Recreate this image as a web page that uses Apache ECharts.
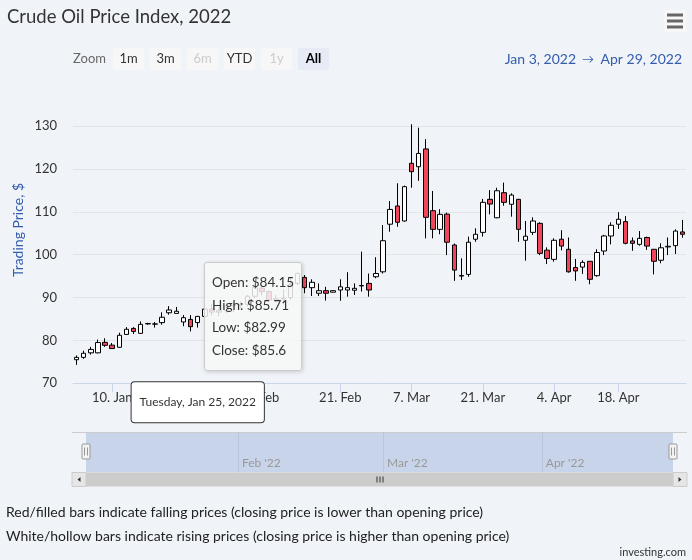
<!DOCTYPE html>
<html><head><meta charset="utf-8">
<script src="https://cdn.jsdelivr.net/npm/echarts@6/dist/echarts.min.js"></script>
<style>html,body{margin:0;padding:0;background:#f0f4f8;} #c{width:692px;height:560px;}</style>
</head><body><div id="c"></div>
<script>
// ---- data ----
const dates = [
 '2022-01-03','2022-01-04','2022-01-05','2022-01-06','2022-01-07','2022-01-10','2022-01-11','2022-01-12','2022-01-13','2022-01-14',
 '2022-01-16','2022-01-17','2022-01-18','2022-01-19','2022-01-20','2022-01-21','2022-01-24','2022-01-25','2022-01-26','2022-01-27',
 '2022-01-28','2022-01-31','2022-02-01','2022-02-02','2022-02-03','2022-02-04','2022-02-07','2022-02-08','2022-02-09','2022-02-10',
 '2022-02-11','2022-02-14','2022-02-15','2022-02-16','2022-02-17','2022-02-18','2022-02-20','2022-02-21','2022-02-22','2022-02-23',
 '2022-02-24','2022-02-25','2022-02-28','2022-03-01','2022-03-02','2022-03-03','2022-03-04','2022-03-07','2022-03-08','2022-03-09',
 '2022-03-10','2022-03-11','2022-03-14','2022-03-15','2022-03-16','2022-03-17','2022-03-18','2022-03-21','2022-03-22','2022-03-23',
 '2022-03-24','2022-03-25','2022-03-28','2022-03-29','2022-03-30','2022-03-31','2022-04-01','2022-04-04','2022-04-05','2022-04-06',
 '2022-04-07','2022-04-08','2022-04-11','2022-04-12','2022-04-13','2022-04-14','2022-04-18','2022-04-19','2022-04-20','2022-04-21',
 '2022-04-22','2022-04-25','2022-04-26','2022-04-27','2022-04-28','2022-04-29'];
const opens = [75.5,76.05,77.1,77.1,79.55,78.9,78.4,81.4,82.8,81.65, 83.85,83.8,84.15,86.45,86.3,84.3,84.9,84.15,85.6,87.3, 86.6,86.9,88.1,88.2,88.4,90.3,92.2,91.4,89.4,89.7, 90.0,93.3,94.7,92.3,91.0,91.6,91.25,91.75,91.75,91.7, 92.7,93.3,94.85,96.0,107.1,111.35,107.85,121.3,120.5,124.65, 110.25,105.9,109.45,102.25,95.0,95.4,103.6,105.2,112.9,108.6, 114.45,111.75,112.9,103.35,105.2,107.3,101.05,98.9,103.6,101.25, 97.0,97.1,98.45,95.1,100.85,104.35,107.1,107.7,103.2,102.4, 104.0,101.25,98.7,101.8,102.1,105.3];
const highs = [76.5,77.6,78.5,80.2,80.5,79.4,81.8,83.1,83.1,84.45, 84.1,84.3,86.55,88.0,87.8,85.9,85.9,85.71,88.2,88.5, 87.3,88.6,88.9,89.1,90.6,93.2,92.6,91.6,90.6,91.9, 94.6,95.8,95.25,94.25,93.3,92.5,91.7,94.25,95.9,93.3, 100.7,95.6,99.4,106.9,112.5,116.65,116.1,130.4,129.6,126.95, 114.85,110.6,109.8,102.6,99.15,104.2,106.15,113.0,115.05,115.6, 116.8,114.3,113.0,107.85,108.7,107.55,101.7,103.8,105.7,104.0, 99.0,98.7,98.45,101.25,104.6,107.55,109.9,109.0,104.0,105.5, 104.2,101.25,102.65,104.0,105.9,108.1];
const lows = [74.3,75.7,76.7,77.0,78.5,78.0,78.3,81.3,81.5,81.55, 83.65,83.0,83.65,86.0,86.3,83.3,82.1,82.99,85.1,85.8, 85.6,86.4,86.6,87.6,87.9,89.9,90.5,88.9,88.8,88.4, 89.5,92.9,91.0,90.35,90.35,89.3,91.2,89.25,90.2,90.6, 91.4,90.2,94.5,95.6,105.35,106.5,107.7,115.6,117.2,103.8, 103.8,104.75,99.9,93.9,94.1,94.85,103.0,104.2,109.4,108.5, 111.4,108.85,103.0,98.6,104.6,99.9,97.8,98.35,101.0,95.8, 93.9,95.5,93.1,94.85,99.9,102.4,106.0,102.4,100.9,102.1, 101.1,95.4,98.0,99.9,100.15,103.95];
const closes = [76.05,77.0,77.9,79.5,78.85,78.1,81.2,82.6,82.1,83.75, 83.95,83.85,85.4,87.1,86.8,85.3,83.2,85.6,87.3,86.6, 86.9,88.1,88.2,88.4,90.3,92.3,91.4,89.4,89.7,89.9, 93.0,95.6,92.3,93.55,91.6,91.0,91.6,92.5,92.3,92.15, 92.8,91.75,95.6,103.25,110.55,107.55,115.85,119.35,123.6,108.7, 105.9,109.4,102.9,96.4,95.15,102.9,104.75,112.2,111.8,114.9, 112.2,113.9,105.9,104.3,107.85,100.3,99.1,103.35,102.0,96.0, 96.2,98.2,94.25,100.5,104.35,106.85,108.25,102.65,102.65,103.8, 102.0,98.45,101.6,101.95,105.5,104.75];
const xTickDates = ['2022-01-10','2022-01-24','2022-02-07','2022-02-21','2022-03-07','2022-03-21','2022-04-04','2022-04-18'];
const navMonthDates = ['2022-02-01','2022-03-01','2022-04-01'];
const yTicks = [70, 80, 90, 100, 110, 120, 130];
const rangeButtons = ['1m','3m','6m','YTD','1y','All'];
const disabledButtons = ['6m','1y'];
const selectedButton = 'All';
const tooltipDate = '2022-01-25';

// ---- helpers ----
const MON = ['Jan','Feb','Mar','Apr','May','Jun','Jul','Aug','Sep','Oct','Nov','Dec'];
const DAY = ['Sunday','Monday','Tuesday','Wednesday','Thursday','Friday','Saturday'];
function pd(s){ const p = s.split('-').map(Number); return new Date(p[0], p[1]-1, p[2]); }
const FONT = 'Lato, "Open Sans", sans-serif';
const bg = '#f0f4f8';

const candle = dates.map((d,i)=>[opens[i], closes[i], lows[i], highs[i]]);

const chart = echarts.init(document.getElementById('c'), null, {renderer:'canvas'});

// range selector graphics
const gfx = [];
gfx.push({type:'text', x:73, y:59, style:{text:'Zoom', fill:'#666', font:'13px '+FONT, verticalAlign:'middle'}});
rangeButtons.forEach((b,i)=>{
  const x = 113 + i*37;
  const sel = b===selectedButton, dis = disabledButtons.includes(b);
  gfx.push({type:'rect', shape:{x:x, y:48, width:31, height:22, r:2},
    style:{fill: sel ? '#e6ebf5' : '#f7f7f7'}});
  gfx.push({type:'text', x:x+15.5, y:59, style:{text:b, fill: sel ? '#000' : (dis ? '#cccccc' : '#333'),
    font:(sel?'bold ':'')+'13px '+FONT, align:'center', verticalAlign:'middle'}});
});
gfx.push({type:'text', x:576, y:59, style:{text:'Jan 3, 2022', fill:'#335cad', font:'14px '+FONT, align:'right', verticalAlign:'middle'}});
gfx.push({type:'text', x:588, y:59, style:{text:'→', fill:'#335cad', font:'12px '+FONT, align:'center', verticalAlign:'middle'}});
gfx.push({type:'text', x:682, y:59, style:{text:'Apr 29, 2022', fill:'#335cad', font:'14px '+FONT, align:'right', verticalAlign:'middle'}});
// menu icon
gfx.push({type:'rect', shape:{x:664, y:10, width:22, height:22, r:2}, style:{fill:'#f7f7f7'}});
[13.5, 19.5, 25.5].forEach(y=>gfx.push({type:'rect', shape:{x:667, y:y, width:16, height:3}, style:{fill:'#666'}}));
// y axis title
gfx.push({type:'text', x:18, y:230, rotation:Math.PI/2, style:{text:'Trading Price, $', fill:'#335cad', font:'14px '+FONT, align:'center', verticalAlign:'middle'}});
// navigator top line
gfx.push({type:'line', shape:{x1:72, y1:432.5, x2:687, y2:432.5}, style:{stroke:'#cccccc', lineWidth:1}});
// navigator handles
[86, 673].forEach(x=>{
  gfx.push({type:'rect', shape:{x:x-4, y:444, width:8, height:15, r:1}, style:{fill:'#f2f2f2', stroke:'#999', lineWidth:1}});
  gfx.push({type:'line', shape:{x1:x-1.5, y1:447.5, x2:x-1.5, y2:455.5}, style:{stroke:'#999', lineWidth:1}});
  gfx.push({type:'line', shape:{x1:x+1.5, y1:447.5, x2:x+1.5, y2:455.5}, style:{stroke:'#999', lineWidth:1}});
});
// scrollbar
gfx.push({type:'rect', shape:{x:72, y:472.5, width:615, height:14}, style:{fill:'#f2f2f2'}});
gfx.push({type:'rect', shape:{x:86, y:472.5, width:587, height:14}, style:{fill:'#cccccc'}});
gfx.push({type:'rect', shape:{x:72, y:472.5, width:14, height:14}, style:{fill:'#e6e6e6', stroke:'#cccccc', lineWidth:1}});
gfx.push({type:'rect', shape:{x:673, y:472.5, width:14, height:14}, style:{fill:'#e6e6e6', stroke:'#cccccc', lineWidth:1}});
gfx.push({type:'polygon', shape:{points:[[77.5,479.5],[80.5,477],[80.5,482]]}, style:{fill:'#333'}});
gfx.push({type:'polygon', shape:{points:[[681.5,479.5],[678.5,477],[678.5,482]]}, style:{fill:'#333'}});
[-3,0,3].forEach(dx=>gfx.push({type:'line', shape:{x1:380+dx, y1:476.5, x2:380+dx, y2:482.5}, style:{stroke:'#333', lineWidth:1}}));
// footer
gfx.push({type:'text', x:6, y:512, style:{text:'Red/filled bars indicate falling prices (closing price is lower than opening price)', fill:'#222', font:'14px '+FONT, verticalAlign:'middle'}});
gfx.push({type:'text', x:6, y:536, style:{text:'White/hollow bars indicate rising prices (closing price is higher than opening price)', fill:'#222', font:'14px '+FONT, verticalAlign:'middle'}});
gfx.push({type:'text', x:686, y:552, style:{text:'investing.com', fill:'#333', font:'11px '+FONT, align:'right', verticalAlign:'middle'}});

const option = {
  animation:false,
  backgroundColor: bg,
  textStyle:{fontFamily:FONT},
  title:{text:'Crude Oil Price Index, 2022', left:2, top:3, textStyle:{fontSize:18.5, fontWeight:'normal', color:'#333', fontFamily:FONT}},
  grid:[
    {left:73, right:6, top:126, height:257.3},
    {left:86, right:19, top:432.5, height:40, show:true, backgroundColor:'#c8d4ea', borderWidth:0}
  ],
  xAxis:[
    {type:'category', gridIndex:0, data:dates, boundaryGap:true,
     axisLine:{lineStyle:{color:'#ccd6eb'}},
     axisTick:{show:true, alignWithLabel:true, length:9, lineStyle:{color:'#ccd6eb'}, interval:(i,v)=>xTickDates.includes(v)},
     axisLabel:{interval:(i,v)=>xTickDates.includes(v), color:'#333', fontSize:13, margin:8,
       formatter:v=>{const d=pd(v); return d.getDate()+'. '+MON[d.getMonth()];}},
     splitLine:{show:false},
     axisPointer:{show:true, type:'line', lineStyle:{opacity:0},
       label:{show:true, margin:-1, backgroundColor:'#fff', borderColor:'#333', borderWidth:1, borderRadius:3,
         color:'#333', fontSize:12, padding:[14,8,14,8], fontFamily:FONT,
         formatter:p=>{const d=pd(p.value); return DAY[d.getDay()]+', '+MON[d.getMonth()]+' '+d.getDate()+', '+d.getFullYear();}}}},
    {type:'category', gridIndex:1, data:dates, boundaryGap:false,
     axisLine:{show:false}, axisTick:{show:false},
     splitLine:{show:true, interval:(i,v)=>navMonthDates.includes(v), lineStyle:{color:'#b7c5df'}},
     axisLabel:{inside:true, interval:(i,v)=>navMonthDates.includes(v), align:'left', padding:[0,0,0,4], margin:3,
       color:'#999', fontSize:12, formatter:v=>{const d=pd(v); return MON[d.getMonth()]+" '"+String(d.getFullYear()).slice(2);}}}
  ],
  yAxis:[
    {type:'value', gridIndex:0, min:yTicks[0], max:yTicks[yTicks.length-1], interval:10,
     axisLine:{show:false}, axisTick:{show:false},
     axisLabel:{color:'#333', fontSize:13, margin:16},
     splitLine:{lineStyle:{color:'#e1e5ea'}}},
    {type:'value', gridIndex:1, show:false}
  ],
  tooltip:{
    trigger:'axis', triggerOn:'none', alwaysShowContent:true, transitionDuration:0,
    position:[204, 262],
    backgroundColor:'rgba(247,247,247,0.85)', borderColor:'#cccccc', borderWidth:1, borderRadius:3,
    padding:[8,7,8,7],
    extraCssText:'box-shadow:1px 1px 4px rgba(0,0,0,0.18);',
    formatter:params=>{
      const i = params[0].dataIndex;
      const row = (k,v)=>'<div style="line-height:22.7px;font-size:13.5px;color:#333;font-family:'+FONT.replace(/"/g,"'")+'">'+k+': $'+v+'</div>';
      return row('Open',opens[i])+row('High',highs[i])+row('Low',lows[i])+row('Close',closes[i]);
    }
  },
  series:[{
    type:'candlestick', xAxisIndex:0, yAxisIndex:0, data:candle, barWidth:5, clip:false,
    itemStyle:{color:'#ffffff', color0:'#f2455c', borderColor:'#000', borderColor0:'#000', borderWidth:1},
    emphasis:{disabled:true}
  }],
  graphic:gfx
};
chart.setOption(option);
chart.dispatchAction({type:'showTip', seriesIndex:0, dataIndex:dates.indexOf(tooltipDate)});
</script></body></html>
